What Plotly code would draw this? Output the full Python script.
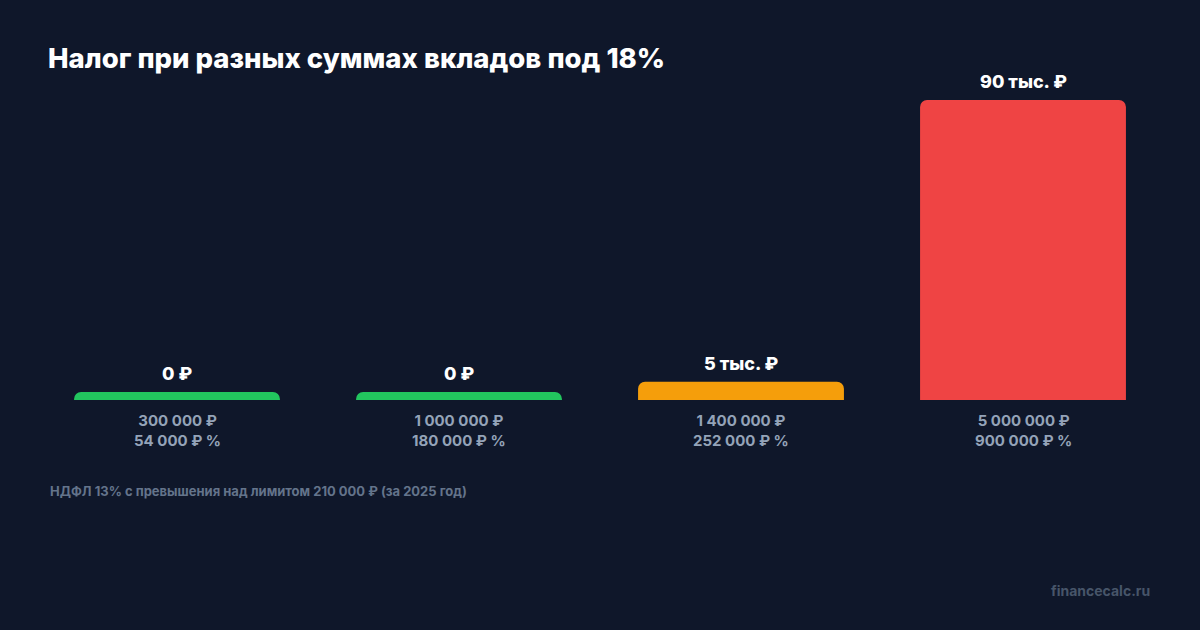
import plotly.graph_objects as go

deposits = ["300 000 ₽", "1 000 000 ₽", "1 400 000 ₽", "5 000 000 ₽"]
interest = ["54 000 ₽ %", "180 000 ₽ %", "252 000 ₽ %", "900 000 ₽ %"]
tax_values = [0, 0, 5460, 89700]
tax_labels = ["0 ₽", "0 ₽", "5 тыс. ₽", "90 тыс. ₽"]
colors = ["#22c55e", "#22c55e", "#f59e0b", "#ef4444"]
categories = ["c1", "c2", "c3", "c4"]

BG = "#0f172a"
ymax = max(tax_values)
min_h = ymax * 8 / 300  # minimum visible bar height (~8px)
display = [max(v, min_h) for v in tax_values]

W, H = 1200, 630
L, R, T, B = 36, 36, 100, 230
pw, ph = W - L - R, H - T - B

def px_x(px):
    return (px - L) / pw

def px_y(py):
    return (H - B - py) / ph

fig = go.Figure()
fig.add_trace(go.Bar(
    x=categories, y=display,
    marker=dict(color=colors, cornerradius=7, line=dict(width=0)),
    hoverinfo="skip",
))

annotations = []
for c, d, lab in zip(categories, display, tax_labels):
    annotations.append(dict(x=c, y=d, xref="x", yref="y", text=lab, showarrow=False,
                            yanchor="bottom", yshift=6,
                            font=dict(family="Inter", size=18, color="#ffffff", weight=800)))
for c, dep, inn in zip(categories, deposits, interest):
    annotations.append(dict(x=c, y=0, xref="x", yref="y", text=dep + "<br>" + inn,
                            showarrow=False, yanchor="top", yshift=-9,
                            font=dict(family="Inter", size=15, color="#94a3b8", weight=700)))
annotations.append(dict(x=px_x(48), y=px_y(491), xref="paper", yref="paper",
                        text="НДФЛ 13% с превышения над лимитом 210 000 ₽ (за 2025 год)",
                        showarrow=False, xanchor="left", yanchor="middle",
                        font=dict(family="Inter", size=13, color="#64748b", weight=700)))
annotations.append(dict(x=px_x(1152), y=px_y(590), xref="paper", yref="paper",
                        text="financecalc.ru", showarrow=False,
                        xanchor="right", yanchor="middle",
                        font=dict(family="Inter", size=14, color="#475569", weight=700)))

fig.update_layout(
    width=W, height=H,
    paper_bgcolor=BG, plot_bgcolor=BG,
    margin=dict(l=L, r=R, t=T, b=B),
    bargap=0.27,
    showlegend=False,
    title=dict(text="Налог при разных суммах вкладов под 18%", x=48 / W, xanchor="left",
               y=1 - 58 / H, yanchor="middle",
               font=dict(family="Inter", size=27.5, color="#ffffff", weight=800)),
    xaxis=dict(visible=False, fixedrange=True),
    yaxis=dict(visible=False, range=[0, ymax], fixedrange=True),
    annotations=annotations,
)
fig.write_html("out.html", config={"displayModeBar": False},
               post_script="document.body.style.margin='0';document.body.style.background='#0f172a';")
